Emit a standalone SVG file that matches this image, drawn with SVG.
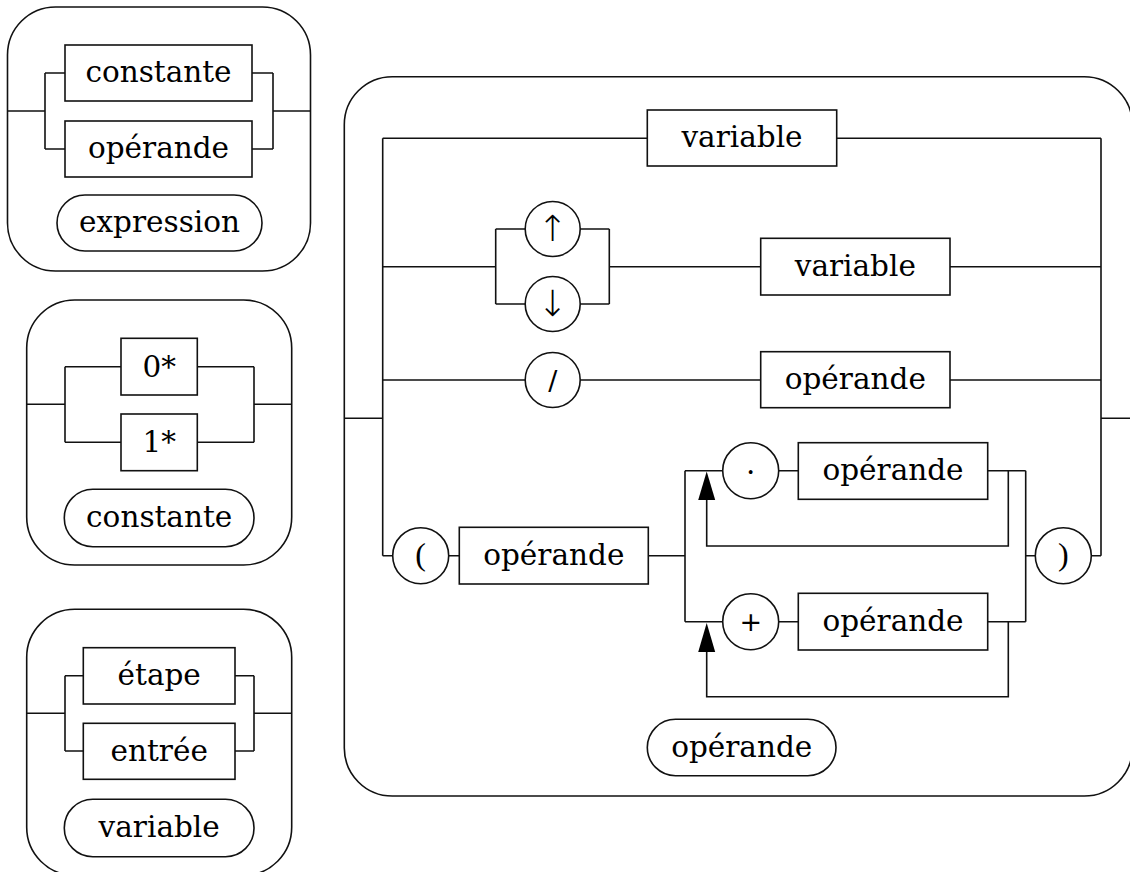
<svg xmlns="http://www.w3.org/2000/svg" width="1130" height="872" viewBox="0 0 1130 872">
<style>
.frame{fill:none;stroke:#111;stroke-width:1.6}
.box{fill:#fff;stroke:#111;stroke-width:1.6}
.ln{fill:none;stroke:#111;stroke-width:1.6}
text{font-family:"DejaVu Serif","Liberation Serif",serif;font-size:29.5px;fill:#000;text-anchor:middle}
.sym{font-size:27px;font-family:"DejaVu Sans",sans-serif}
.arw{font-size:36px;font-family:"DejaVu Sans",sans-serif;font-weight:200}
.par{font-family:"Liberation Serif","DejaVu Serif",serif;font-size:32px}
</style>
<rect width="1130" height="872" fill="#fff"/>

<!-- expression diagram -->
<g id="expression">
<rect class="frame" x="7.5" y="7" width="303" height="264" rx="48"/>
<path class="ln" d="M7.5 111 H45 M45 73 V149 M45 73 H65 M45 149 H65 M252 73 H273 M252 149 H273 M273 73 V149 M273 111 H310.5"/>
<g id="expr-constante"><rect class="box" x="65" y="45" width="187" height="56"/><text x="158.5" y="82">constante</text></g>
<g id="expr-operande"><rect class="box" x="65" y="121" width="187" height="56"/><text x="158.5" y="158">opérande</text></g>
<g id="expr-title"><rect class="box" x="57" y="195" width="205" height="56" rx="28"/><text x="159.5" y="232">expression</text></g>
</g>

<!-- constante diagram -->
<g id="constante">
<rect class="frame" x="26.7" y="300" width="265" height="265" rx="48"/>
<path class="ln" d="M26.7 404.3 H65 M65 366.7 V442.3 M65 366.7 H121 M65 442.3 H121 M197.3 366.7 H254 M197.3 442.3 H254 M254 366.7 V442.3 M254 404.3 H291.7"/>
<g id="const-0"><rect class="box" x="121" y="338.3" width="76.3" height="56.7"/><text x="159.2" y="376.5">0*</text></g>
<g id="const-1"><rect class="box" x="121" y="414" width="76.3" height="56.7"/><text x="159.2" y="452">1*</text></g>
<g id="const-title"><rect class="box" x="64.3" y="489.3" width="189.7" height="57.4" rx="28.5"/><text x="159.2" y="527">constante</text></g>
</g>

<!-- variable diagram -->
<g id="variable">
<rect class="frame" x="26.7" y="609.3" width="265" height="266" rx="48"/>
<path class="ln" d="M26.7 713.3 H65 M65 675.7 V751 M65 675.7 H83.3 M65 751 H83.3 M235 675.7 H254 M235 751 H254 M254 675.7 V751 M254 713.3 H291.7"/>
<g id="var-etape"><rect class="box" x="83.3" y="647.7" width="151.7" height="56.3"/><text x="159.2" y="685">étape</text></g>
<g id="var-entree"><rect class="box" x="83.3" y="723.3" width="151.7" height="56"/><text x="159.2" y="760.5">entrée</text></g>
<g id="var-title"><rect class="box" x="64.3" y="799.3" width="189.7" height="57.4" rx="28.5"/><text x="159.2" y="837">variable</text></g>
</g>

<!-- operande diagram -->
<g id="operande">
<rect class="frame" x="344.3" y="76.7" width="788" height="719.3" rx="48"/>
<g id="connectors">
<path class="ln" d="M344.3 418.3 H382.7 M382.7 138.3 V555.7"/>
<path class="ln" d="M382.7 138.3 H647.3 M836.7 138.3 H1101 M1101 138.3 V555.7 M1101 418.3 H1132"/>
<path class="ln" d="M382.7 266.7 H495.7 M495.7 229 V304 M495.7 229 H525.2 M495.7 304 H525.2 M580.2 229 H609.3 M580.2 304 H609.3 M609.3 229 V304 M609.3 266.7 H760.7 M950 266.7 H1101"/>
<path class="ln" d="M382.7 380 H525.2 M580.2 380 H760.7 M950 380 H1101"/>
<path class="ln" d="M382.7 555.7 H392.7 M448.7 555.7 H459.3 M648.3 555.7 H685 M685 470.7 V621.7"/>
<path class="ln" d="M685 470.7 H722.7 M778.7 470.7 H798.3 M987.7 470.7 H1025.7 M1025.7 470.7 V621.7"/>
<path class="ln" d="M685 621.7 H722.7 M778.7 621.7 H798.3 M987.7 621.7 H1025.7"/>
<path class="ln" d="M1008.3 470.7 V546 H706.7 V500"/>
<path class="ln" d="M1008.3 621.7 V696.7 H706.7 V652"/>
<path d="M698.2 500 L706.7 471.5 L715.2 500 Z" fill="#000"/>
<path d="M698.2 652 L706.7 623 L715.2 652 Z" fill="#000"/>
<path class="ln" d="M1025.7 555.7 H1035.3 M1091.3 555.7 H1101"/>
</g>
<g id="op-variable1"><rect class="box" x="647.3" y="110" width="189.4" height="56"/><text x="742" y="147">variable</text></g>
<g id="op-up"><circle class="box" cx="552.7" cy="229" r="27.5"/><text class="arw" x="552.7" y="241">↑</text></g>
<g id="op-down"><circle class="box" cx="552.7" cy="304" r="27.5"/><text class="arw" x="552.7" y="316">↓</text></g>
<g id="op-variable2"><rect class="box" x="760.7" y="238.3" width="189.3" height="56.7"/><text x="855.3" y="276">variable</text></g>
<g id="op-slash"><circle class="box" cx="552.7" cy="380" r="27.5"/><text class="sym" x="552.7" y="390">/</text></g>
<g id="op-operande1"><rect class="box" x="760.7" y="351.7" width="189.3" height="56"/><text x="855.3" y="389">opérande</text></g>
<g id="op-lparen"><circle class="box" cx="420.7" cy="555.7" r="28"/><text class="par" x="420.7" y="565">(</text></g>
<g id="op-operande2"><rect class="box" x="459.3" y="527.3" width="189" height="56.7"/><text x="553.8" y="564.5">opérande</text></g>
<g id="op-dot"><circle class="box" cx="750.7" cy="470.7" r="28"/><text x="750.7" y="482">·</text></g>
<g id="op-operande3"><rect class="box" x="798.3" y="442.7" width="189.4" height="56.6"/><text x="893" y="480">opérande</text></g>
<g id="op-plus"><circle class="box" cx="750.7" cy="621.7" r="28"/><text class="sym" x="750.7" y="631">+</text></g>
<g id="op-operande4"><rect class="box" x="798.3" y="593.3" width="189.4" height="56.7"/><text x="893" y="631">opérande</text></g>
<g id="op-rparen"><circle class="box" cx="1063.3" cy="555.7" r="28"/><text class="par" x="1063.3" y="565">)</text></g>
<g id="op-title"><rect class="box" x="647.3" y="719.3" width="188.7" height="56.4" rx="28.2"/><text x="741.7" y="757">opérande</text></g>
</g>
</svg>
